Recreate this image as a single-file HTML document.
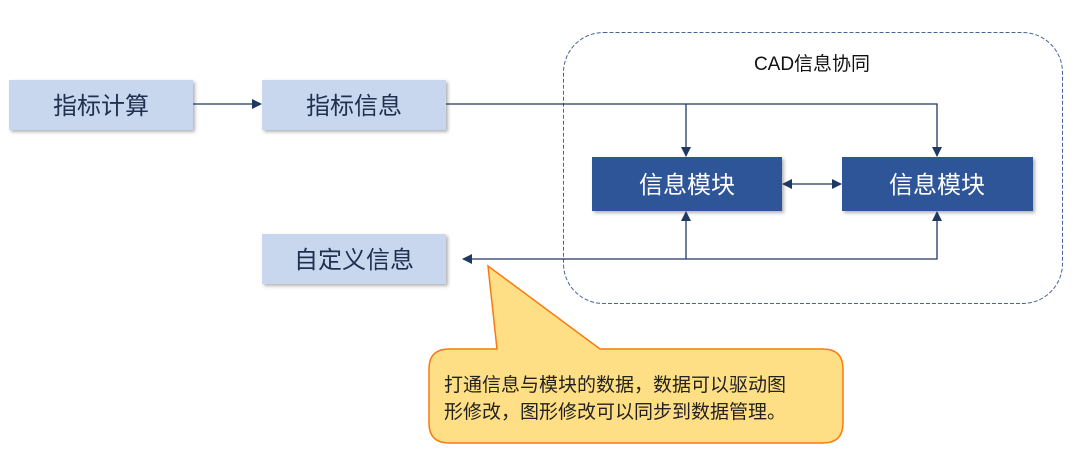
<!DOCTYPE html>
<html><head><meta charset="utf-8"><style>
html,body{margin:0;padding:0;background:#fff;}
svg{display:block;}
text{font-family:"Liberation Sans","Noto Sans CJK SC",sans-serif;}
</style></head><body>
<svg width="1080" height="456" viewBox="0 0 1080 456" xmlns="http://www.w3.org/2000/svg">
<defs>
<marker id="a" markerWidth="10" markerHeight="10" refX="9" refY="5" orient="auto" markerUnits="userSpaceOnUse">
<path d="M0,0 L10,5 L0,10 Z" fill="#1f3864"/></marker>
<marker id="as" markerWidth="10" markerHeight="10" refX="1" refY="5" orient="auto" markerUnits="userSpaceOnUse">
<path d="M10,0 L0,5 L10,10 Z" fill="#1f3864"/></marker>
<filter id="sh" x="-10%" y="-10%" width="130%" height="140%"><feDropShadow dx="2" dy="2" stdDeviation="1.5" flood-color="#000" flood-opacity="0.3"/></filter>
</defs>
<rect x="563.5" y="32.5" width="499" height="271" rx="40" fill="none" stroke="#4a6595" stroke-width="1" stroke-dasharray="4,2"/>
<text x="812" y="70" font-size="19" text-anchor="middle" fill="#111">CAD信息协同</text>
<g filter="url(#sh)">
<rect x="9" y="80" width="184" height="50" fill="#c9d7ee"/>
<rect x="262" y="80" width="184" height="50" fill="#c9d7ee"/>
<rect x="262" y="234" width="184" height="50" fill="#c9d7ee"/>
<rect x="592" y="157" width="190" height="54" fill="#2f5597"/>
<rect x="842" y="157" width="191" height="54" fill="#2f5597"/>
</g>
<g font-size="24" fill="#1f3050" text-anchor="middle">
<text x="101" y="114">指标计算</text>
<text x="354" y="114">指标信息</text>
<text x="354" y="268">自定义信息</text>
</g>
<g font-size="24" fill="#fff" text-anchor="middle">
<text x="687" y="193">信息模块</text>
<text x="937" y="193">信息模块</text>
</g>
<g stroke="#1f3864" stroke-width="1.3" fill="none">
<line x1="193" y1="104" x2="261" y2="104" marker-end="url(#a)"/>
<polyline points="446,104 937,104 937,156" marker-end="url(#a)"/>
<line x1="686" y1="104" x2="686" y2="156" marker-end="url(#a)"/>
<line x1="783" y1="184" x2="841" y2="184" marker-start="url(#as)" marker-end="url(#a)"/>
<polyline points="937,212 937,259 463,259" marker-end="url(#a)" marker-start="url(#as)"/>
<line x1="686" y1="259" x2="686" y2="212" marker-end="url(#a)"/>
</g>
<path d="M449,349 L497,349 L488,266 L600,349 L823,349 Q843,349 843,369 L843,423 Q843,443 823,443 L449,443 Q429,443 429,423 L429,369 Q429,349 449,349 Z" fill="#ffdf85" stroke="#f97a10" stroke-width="1.5"/>
<g font-size="19" fill="#222">
<text x="444" y="391">打通信息与模块的数据，数据可以驱动图</text>
<text x="444" y="418">形修改，图形修改可以同步到数据管理。</text>
</g>
</svg>
</body></html>
